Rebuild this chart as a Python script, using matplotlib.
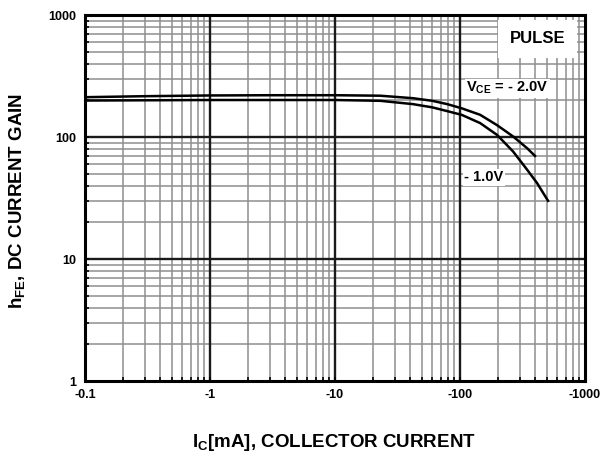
import numpy as np
import matplotlib
matplotlib.use("Agg")
import matplotlib.pyplot as plt
from matplotlib.ticker import FixedLocator, NullFormatter

plt.rcParams['font.family'] = ['Liberation Sans', 'DejaVu Sans']
plt.rcParams['mathtext.default'] = 'regular'

# Collector current (mA) and DC current gain for each V_CE
ic_vce2 = [-0.1, -0.3, -1, -3, -10, -23, -42, -60, -79, -103, -145, -198, -266, -344, -398]
hfe_vce2 = [212, 216, 219, 220, 220, 218, 208, 198, 186, 172, 152, 125, 101, 81, 70]

ic_vce1 = [-0.1, -1, -10, -23, -42, -60, -79, -103, -145, -198, -266, -344, -413, -506]
hfe_vce1 = [199, 201, 201, 198, 186, 175, 163, 152, 130, 104, 76, 54, 42, 30]

x_ticks = [0.1, 1, 10, 100, 1000]
x_ticklabels = ["-0.1", "-1", "-10", "-100", "-1000"]
y_ticks = [1, 10, 100, 1000]
y_ticklabels = ["1", "10", "100", "1000"]

fig = plt.figure(figsize=(6.0, 4.55), dpi=100)
ax = fig.add_axes([85 / 600, 1 - 381 / 455, 500 / 600, 366 / 455])
ax.set_xscale('log')
ax.set_yscale('log')
ax.set_xlim(0.1, 1000)
ax.set_ylim(1, 1000)

# grid: gray lines at 2..9 of every decade, dark decade lines
x_minor = [m * 10.0 ** e for e in range(-1, 3) for m in range(2, 10)]
y_minor = [m * 10.0 ** e for e in range(0, 3) for m in range(2, 10)]
for v in x_minor:
    ax.axvline(v, color='#8e8e8e', lw=1.1, zorder=1)
for v in y_minor:
    ax.axhline(v, color='#8e8e8e', lw=1.1, zorder=1)
for v in x_ticks[1:-1]:
    ax.axvline(v, color='#1a1a1a', lw=1.7, zorder=1.5)
for v in y_ticks[1:-1]:
    ax.axhline(v, color='#1a1a1a', lw=1.7, zorder=1.5)

ax.plot(np.abs(ic_vce2), hfe_vce2, color='black', lw=1.8, zorder=3,
        solid_joinstyle='round')
ax.plot(np.abs(ic_vce1), hfe_vce1, color='black', lw=1.8, zorder=3,
        solid_joinstyle='round')

ax.set_xticks(x_ticks)
ax.set_xticklabels(x_ticklabels)
ax.set_yticks(y_ticks)
ax.set_yticklabels(y_ticklabels)
ax.xaxis.set_minor_locator(FixedLocator(x_minor))
ax.yaxis.set_minor_locator(FixedLocator(y_minor))
ax.xaxis.set_minor_formatter(NullFormatter())
ax.yaxis.set_minor_formatter(NullFormatter())
ax.tick_params(which='both', direction='in', length=3, width=1.2, color='black')
ax.tick_params(which='major', labelsize=9, pad=6)
for lab in ax.get_xticklabels() + ax.get_yticklabels():
    lab.set_fontweight('bold')

for s in ax.spines.values():
    s.set_linewidth(2.2)
    s.set_zorder(4)

ax.set_xlabel(r"I$_{C}$[mA], COLLECTOR CURRENT", fontsize=13.5, fontweight='bold',
              va='center')
ax.xaxis.set_label_coords(0.498, -0.169)
ax.set_ylabel(r"h$_{FE}$, DC CURRENT GAIN", fontsize=13.5, fontweight='bold',
              va='center')
ax.yaxis.set_label_coords(-0.136, 0.492)

ax.text(0.905, 0.935, "PULSE", transform=ax.transAxes, ha='center', va='center',
        fontsize=12, fontweight='bold', zorder=5,
        bbox=dict(boxstyle='square,pad=0.7', fc='white', ec='none'))
ax.text(0.762, 0.800, r"V$_{CE}$ = - 2.0V", transform=ax.transAxes, ha='left', va='center',
        fontsize=10.5, fontweight='bold', zorder=5,
        bbox=dict(boxstyle='square,pad=0.1', fc='white', ec='none'))
ax.text(0.758, 0.557, "- 1.0V", transform=ax.transAxes, ha='left', va='center',
        fontsize=10.5, fontweight='bold', zorder=5,
        bbox=dict(boxstyle='square,pad=0.1', fc='white', ec='none'))

fig.savefig("out.png", dpi=100)
